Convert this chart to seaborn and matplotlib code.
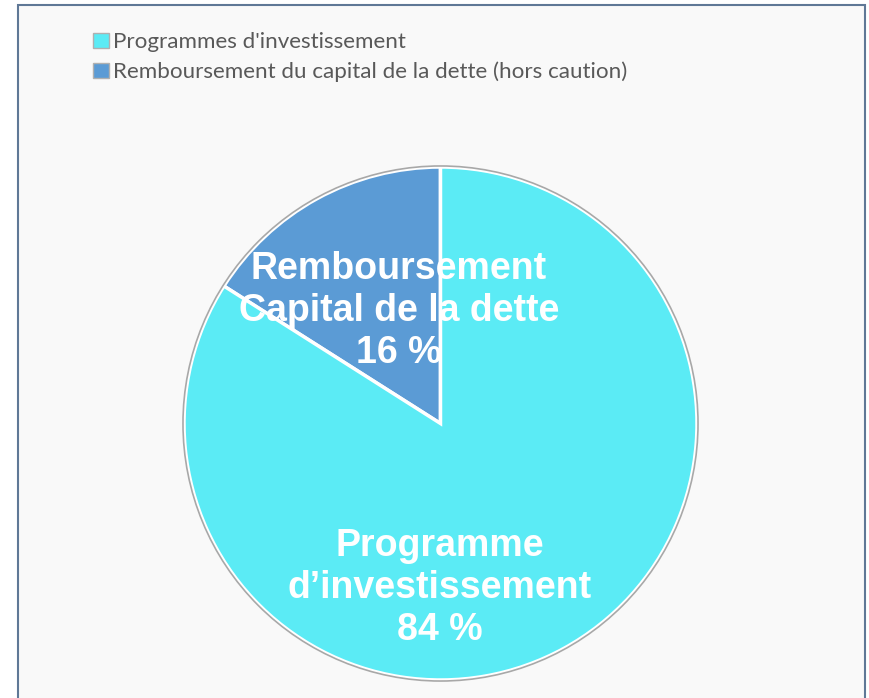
import matplotlib
matplotlib.use("Agg")
import matplotlib.pyplot as plt
import seaborn as sns
from matplotlib.patches import Rectangle, Circle, Patch

categories = ["Programmes d'investissement", "Remboursement du capital de la dette (hors caution)"]
values = [84, 16]
slice_labels = ["Programme\nd\u2019investissement\n84 %", "Remboursement\nCapital de la dette\n16 %"]
colors = ["#5BEBF5", "#5B9BD5"]

sns.set_theme(style="white")
plt.rcParams['font.family'] = ['Liberation Sans', 'DejaVu Sans']

W, H = 870, 698
fig = plt.figure(figsize=(W / 100, H / 100), dpi=100)
fig.patch.set_facecolor("white")

# background panel with frame
bg = Rectangle((18 / W, -0.05), (865 - 18) / W, 1.05 - 5 / H, transform=fig.transFigure,
               facecolor="#f9f9f9", edgecolor="#5f7896", linewidth=1.5, zorder=-5)
fig.patches.append(bg)

cx, cy, r = 440.5, 423.5, 256.5
lim = 1.01
ax = fig.add_axes([(cx - r * lim) / W, (H - cy - r * lim) / H, 2 * r * lim / W, 2 * r * lim / H])
ax.set_zorder(2)
ax.set_facecolor("none")
ax.patch.set_alpha(0)
wedges, _ = ax.pie([values[1], values[0]], colors=[colors[1], colors[0]], startangle=90,
                   counterclock=True, radius=1,
                   wedgeprops=dict(edgecolor="white", linewidth=2.5))
ax.add_patch(Circle((0, 0), 1.004, fill=False, edgecolor="#a8a8a8", linewidth=1.2))
ax.set_xlim(-lim, lim)
ax.set_ylim(-lim, lim)
ax.set_aspect("equal")
ax.axis("off")

ax.text((399 - cx) / r, (cy - 311) / r, slice_labels[1], ha="center", va="center",
        color="white", fontsize=27, fontweight="bold", linespacing=1.2)
ax.text((440 - cx) / r, (cy - 588) / r, slice_labels[0], ha="center", va="center",
        color="white", fontsize=27, fontweight="bold", linespacing=1.2)

handles = [Patch(facecolor=c, edgecolor="#b0b0b0", linewidth=1.0) for c in colors]
leg = fig.legend(handles, categories, loc="upper left", bbox_to_anchor=(82 / W, 1 - 21 / H),
                 frameon=False, prop={'family': 'Lato', 'size': 16.1}, handlelength=0.7,
                 handleheight=0.7, handletextpad=0.2, labelspacing=0.42, borderpad=0)
leg.set_zorder(3)
for t in leg.get_texts():
    t.set_color("#595959")

fig.savefig("out.png", dpi=100)
